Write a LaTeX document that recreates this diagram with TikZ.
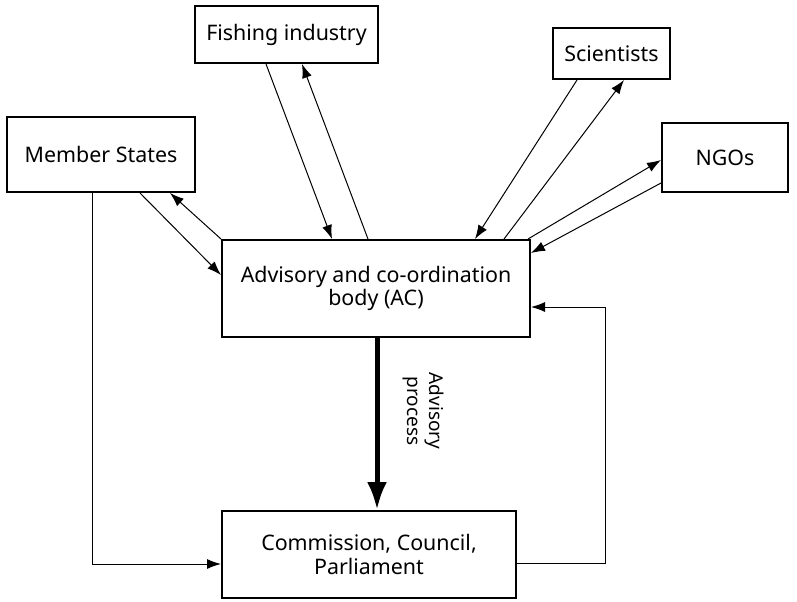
\documentclass[tikz,border=0pt]{standalone}
\usepackage{fontspec}
\setmainfont{Noto Sans}
\usetikzlibrary{positioning,arrows.meta,calc}

\tikzset{
  actor/.style={draw, line width=1pt, align=center, inner sep=2pt},
  link/.style={-{Latex[length=7pt,width=5pt]}, line width=0.5pt},
}

\begin{document}
\begin{tikzpicture}[x=0.5pt, y=-0.5pt, font=\fontsize{10.7}{11.8}\selectfont]
  \useasboundingbox (0,0) rectangle (797,601);
  % boxes
  \node[actor, minimum width=94pt, minimum height=37.5pt] (ms) at (101,154.5) {Member States};
  \node[actor, minimum width=91.5pt, minimum height=28.5pt] (fish) at (286.5,34.5) {Fishing industry};
  \node[actor, minimum width=58.5pt, minimum height=25.5pt] (sci) at (611.5,53.5) {Scientists};
  \node[actor, minimum width=63pt, minimum height=34.5pt] (ngo) at (725,157.5) {NGOs};
  \node[actor, minimum width=154pt, minimum height=48.5pt] (ac) at (376,288.5) {Advisory and co-ordination\\body (AC)};
  \node[actor, minimum width=147pt, minimum height=43.5pt] (ccp) at (369,554.5) {Commission, Council,\\Parliament};
  % Member States <-> AC
  \draw[link] ($(ms.south)+(39,0)$) -- ($(ac.north west)+(0,36)$);
  \draw[link] (ac.north west) -- ($(ms.south)+(69,0)$);
  % Fishing industry <-> AC
  \draw[link] ($(fish.south)+(-20.5,0)$) -- ($(ac.north)+(-44,0)$);
  \draw[link] ($(ac.north)+(-8,0)$) -- ($(fish.south)+(15.5,0)$);
  % Scientists <-> AC
  \draw[link] ($(sci.south)+(-34.5,0)$) -- ($(ac.north)+(99,0)$);
  \draw[link] ($(ac.north)+(128,0)$) -- ($(sci.south)+(12.5,0)$);
  % NGOs <-> AC
  \draw[link] ($(ac.north east)+(-3,0)$) -- ($(ngo.west)+(0,2.5)$);
  \draw[link] ($(ngo.west)+(0,25.5)$) -- ($(ac.north east)+(0,14)$);
  % advisory process
  \draw[line width=2.5pt, -{Latex[length=14pt,width=10pt]}] ($(ac.south)+(1,0)$) -- ($(ccp.north -| ac.south)+(1,0)$);
  \node[rotate=-90, align=center, inner sep=0pt, font=\fontsize{9.5}{11}\selectfont] (advlabel) at ($(ac.south)+(47,73)$) {Advisory\\process};
  % feedback lines
  \coordinate (msdown) at ($(ms.south)+(-9,371)$);
  \draw[link] ($(ms.south)+(-9,0)$) -- (msdown) -- (msdown -| ccp.west);
  \coordinate (ccpout) at ($(ccp.east)+(88,8.5)$);
  \coordinate (acin) at ($(ac.east)+(0,18.5)$);
  \draw[link] ($(ccp.east)+(0,8.5)$) -- (ccpout) -- (ccpout |- acin) -- (acin);
\end{tikzpicture}
\end{document}
